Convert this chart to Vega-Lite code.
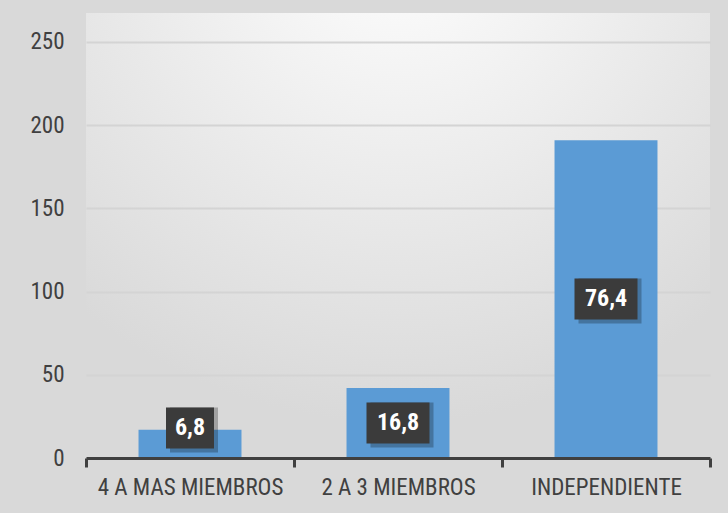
{
  "$schema": "https://vega.github.io/schema/vega-lite/v6.json",
  "width": 624,
  "height": 445,
  "autosize": {"type": "none"},
  "padding": {"left": 86, "top": 13, "right": 18, "bottom": 55},
  "background": "#d9d9d9",
  "config": {
    "view": {
      "stroke": null,
      "fill": {
        "gradient": "radial",
        "x1": 0.5, "y1": 0.0, "x2": 0.5, "y2": 0.0,
        "r1": 0, "r2": 0.8,
        "stops": [
          {"offset": 0, "color": "#ffffff"},
          {"offset": 0.5, "color": "#ececec"},
          {"offset": 1, "color": "#d9d9d9"}
        ]
      }
    },
    "font": "Liberation Sans Narrow, Roboto Condensed, Liberation Sans, sans-serif"
  },
  "data": {
    "values": [
      {"grupo": "4 A MAS MIEMBROS", "valor": 17, "pct": "6,8"},
      {"grupo": "2 A 3 MIEMBROS", "valor": 42, "pct": "16,8"},
      {"grupo": "INDEPENDIENTE", "valor": 191, "pct": "76,4"}
    ]
  },
  "transform": [
    {"calculate": "max(datum.valor / 2, 18)", "as": "mid"},
    {"calculate": "datum.mid - 12.3", "as": "lo"},
    {"calculate": "datum.mid + 12.3", "as": "hi"}
  ],
  "encoding": {
    "x": {
      "field": "grupo",
      "type": "nominal",
      "sort": null,
      "scale": {"paddingInner": 0, "paddingOuter": 0},
      "axis": {
        "title": null,
        "labelAngle": 0,
        "labelFontSize": 23,
        "labelColor": "#404040",
        "labelPadding": 9,
        "labelLimit": 400,
        "labelOverlap": false,
        "domainColor": "#404040",
        "domainWidth": 3,
        "tickBand": "extent",
        "tickColor": "#404040",
        "tickWidth": 3,
        "tickSize": 9,
        "grid": false,
        "zindex": 2
      }
    }
  },
  "layer": [
    {
      "mark": {"type": "bar", "color": "#5b9bd5", "width": {"band": 0.495}},
      "encoding": {
        "y": {
          "field": "valor",
          "type": "quantitative",
          "scale": {"domain": [0, 267.4], "nice": false},
          "axis": {
            "title": null,
            "values": [0, 50, 100, 150, 200, 250],
            "labelFontSize": 23,
            "labelColor": "#404040",
            "labelPadding": 22,
            "domain": false,
            "ticks": false,
            "gridColor": "#d4d4d4",
            "gridWidth": 2
          }
        }
      }
    },
    {
      "transform": [{"filter": "length(datum.pct) == 3"}],
      "mark": {"type": "bar", "color": "#000000", "opacity": 0.25, "width": 48, "xOffset": 4, "yOffset": 4},
      "encoding": {"y": {"field": "lo", "type": "quantitative"}, "y2": {"field": "hi"}}
    },
    {
      "transform": [{"filter": "length(datum.pct) == 4"}],
      "mark": {"type": "bar", "color": "#000000", "opacity": 0.25, "width": 63, "xOffset": 4, "yOffset": 4},
      "encoding": {"y": {"field": "lo", "type": "quantitative"}, "y2": {"field": "hi"}}
    },
    {
      "transform": [{"filter": "length(datum.pct) == 3"}],
      "mark": {"type": "bar", "color": "#3b3b3b", "width": 48},
      "encoding": {"y": {"field": "lo", "type": "quantitative"}, "y2": {"field": "hi"}}
    },
    {
      "transform": [{"filter": "length(datum.pct) == 4"}],
      "mark": {"type": "bar", "color": "#3b3b3b", "width": 63},
      "encoding": {"y": {"field": "lo", "type": "quantitative"}, "y2": {"field": "hi"}}
    },
    {
      "mark": {"type": "text", "color": "#ffffff", "fontSize": 24, "fontWeight": "bold", "baseline": "middle", "align": "center"},
      "encoding": {
        "y": {"field": "mid", "type": "quantitative"},
        "text": {"field": "pct"}
      }
    }
  ]
}
